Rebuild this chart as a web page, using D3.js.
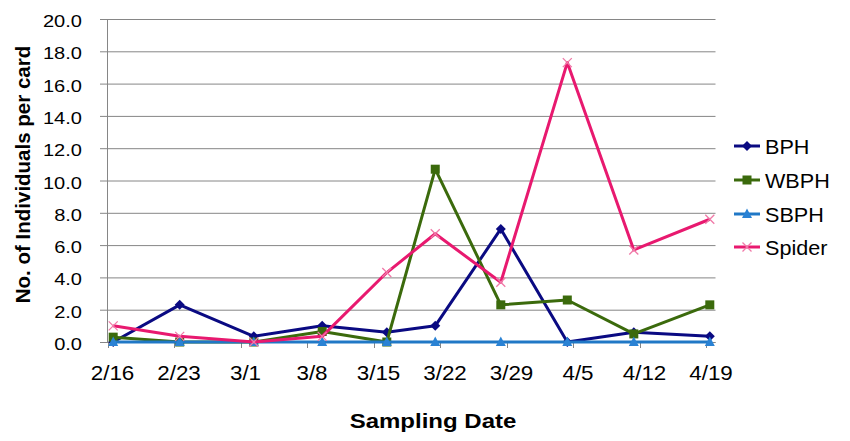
<!DOCTYPE html>
<html><head><meta charset="utf-8">
<script src="https://cdn.jsdelivr.net/npm/d3@7"></script>
<style>body{margin:0;background:#fff}svg{display:block}text{font-family:"Liberation Sans",Arial,sans-serif;fill:#000}</style>
</head><body><svg id="c" width="850" height="441"></svg>
<script>
// Data
const tickLabels = ["2/16","2/23","3/1","3/8","3/15","3/22","3/29","4/5","4/12","4/19"];
const tickDays = [0,7,14,21,28,35,42,49,56,63];           // days after 2/16
const sampleDays = [0.6,7.6,15.4,22.6,29.4,34.5,41.4,48.4,55.4,63.4]; // sampling points (days after 2/16)
const yTicks = [0,2,4,6,8,10,12,14,16,18,20];
const seriesNames = ["BPH","WBPH","SBPH","Spider"];
const BPH    = [0.0,2.3,0.35,1.0,0.6,1.0,7.0,0.0,0.6,0.35];
const WBPH   = [0.3,0.0,0.0,0.65,0.0,10.7,2.3,2.6,0.5,2.3];
const SBPH   = [0,0,0,0,0,0,0,0,0,0];
const Spider = [1.0,0.35,0.0,0.35,4.3,6.7,3.7,17.3,5.7,7.6];
const seriesValues = [BPH,WBPH,SBPH,Spider];
const colors = ["#0a0a82","#3b6a0c","#2078c6","#e8196f"];
const markerColors = ["#0a0a82","#3b6a0c","#2a82d4","#f07aa8"];
const markerTypes = ["diamond","square","triangle","x"];

const svg = d3.select("#c");
const x = d3.scaleLinear().domain([0,64]).range([107.5,715.5]);
const y = d3.scaleLinear().domain([0,20]).range([342,19]);

// gridlines + y ticks
svg.append("g").selectAll("line").data(yTicks).join("line")
  .attr("x1",100).attr("x2",x.range()[1]).attr("y1",d=>y(d)+0.5).attr("y2",d=>y(d)+0.5)
  .attr("stroke","#868686").attr("stroke-width",1);
// y axis line
svg.append("line").attr("x1",107.5).attr("x2",107.5).attr("y1",y(20)).attr("y2",y(0)+0.5)
  .attr("stroke","#868686");
// x axis line + ticks
svg.append("line").attr("x1",100).attr("x2",x.range()[1]).attr("y1",y(0)+0.5).attr("y2",y(0)+0.5).attr("stroke","#868686");
svg.append("g").selectAll("line").data(tickDays).join("line")
  .attr("x1",d=>Math.round(x(d))+0.5).attr("x2",d=>Math.round(x(d))+0.5).attr("y1",y(0)).attr("y2",y(0)+6)
  .attr("stroke","#868686");

// y tick labels
svg.append("g").selectAll("text").data(yTicks).join("text")
  .attr("transform",d=>`translate(82,${y(d)+8}) scale(1.18,1)`)
  .attr("text-anchor","end").attr("font-size",17).text(d=>d.toFixed(1));
// x tick labels
svg.append("g").selectAll("text").data(tickDays).join("text")
  .attr("transform",d=>`translate(${x(d)+5},380) scale(1.12,1)`)
  .attr("text-anchor","middle").attr("font-size",20).text((d,i)=>tickLabels[i]);

// axis titles
svg.append("text").attr("transform",`translate(30,${(y(0)+y(20))/2-6}) rotate(-90)`)
  .attr("text-anchor","middle").attr("font-size",20.5).attr("font-weight","bold")
  .text("No. of Individuals per card");
svg.append("text").attr("transform",`translate(433,428) scale(1.2,1)`)
  .attr("text-anchor","middle").attr("font-size",20).attr("font-weight","bold")
  .text("Sampling Date");

function drawMarker(g, type, cx, cy, col){
  if(type==="diamond"){
    g.append("path").attr("d",`M${cx},${cy-5}L${cx+5},${cy}L${cx},${cy+5}L${cx-5},${cy}Z`).attr("fill",col);
  } else if(type==="square"){
    g.append("rect").attr("x",cx-4.5).attr("y",cy-4.5).attr("width",9).attr("height",9).attr("fill",col);
  } else if(type==="triangle"){
    g.append("path").attr("d",`M${cx},${cy-5.5}L${cx+5},${cy+4}L${cx-5},${cy+4}Z`).attr("fill",col);
  } else {
    g.append("path").attr("d",`M${cx-4.5},${cy-4.5}L${cx+4.5},${cy+4.5}M${cx+4.5},${cy-4.5}L${cx-4.5},${cy+4.5}`)
      .attr("stroke",col).attr("stroke-width",1.3).attr("fill","none");
  }
}

const line = d3.line().x((d,i)=>x(sampleDays[i])).y(d=>y(d));
seriesValues.forEach((vals,s)=>{
  const g = svg.append("g");
  g.append("path").attr("d",line(vals)).attr("fill","none").attr("stroke",colors[s])
    .attr("stroke-width",3).attr("stroke-linejoin","round");
  vals.forEach((v,i)=>drawMarker(g, markerTypes[s], x(sampleDays[i]), y(v), markerColors[s]));
});

// legend
const legY = [146,180,214,247];
seriesNames.forEach((name,s)=>{
  const g = svg.append("g");
  g.append("line").attr("x1",734).attr("x2",760).attr("y1",legY[s]).attr("y2",legY[s])
    .attr("stroke",colors[s]).attr("stroke-width",3);
  drawMarker(g, markerTypes[s], 747, legY[s], markerColors[s]);
  g.append("text").attr("transform",`translate(765,${legY[s]+7.5}) scale(1.08,1)`)
    .attr("font-size",20).text(name);
});
</script></body></html>
